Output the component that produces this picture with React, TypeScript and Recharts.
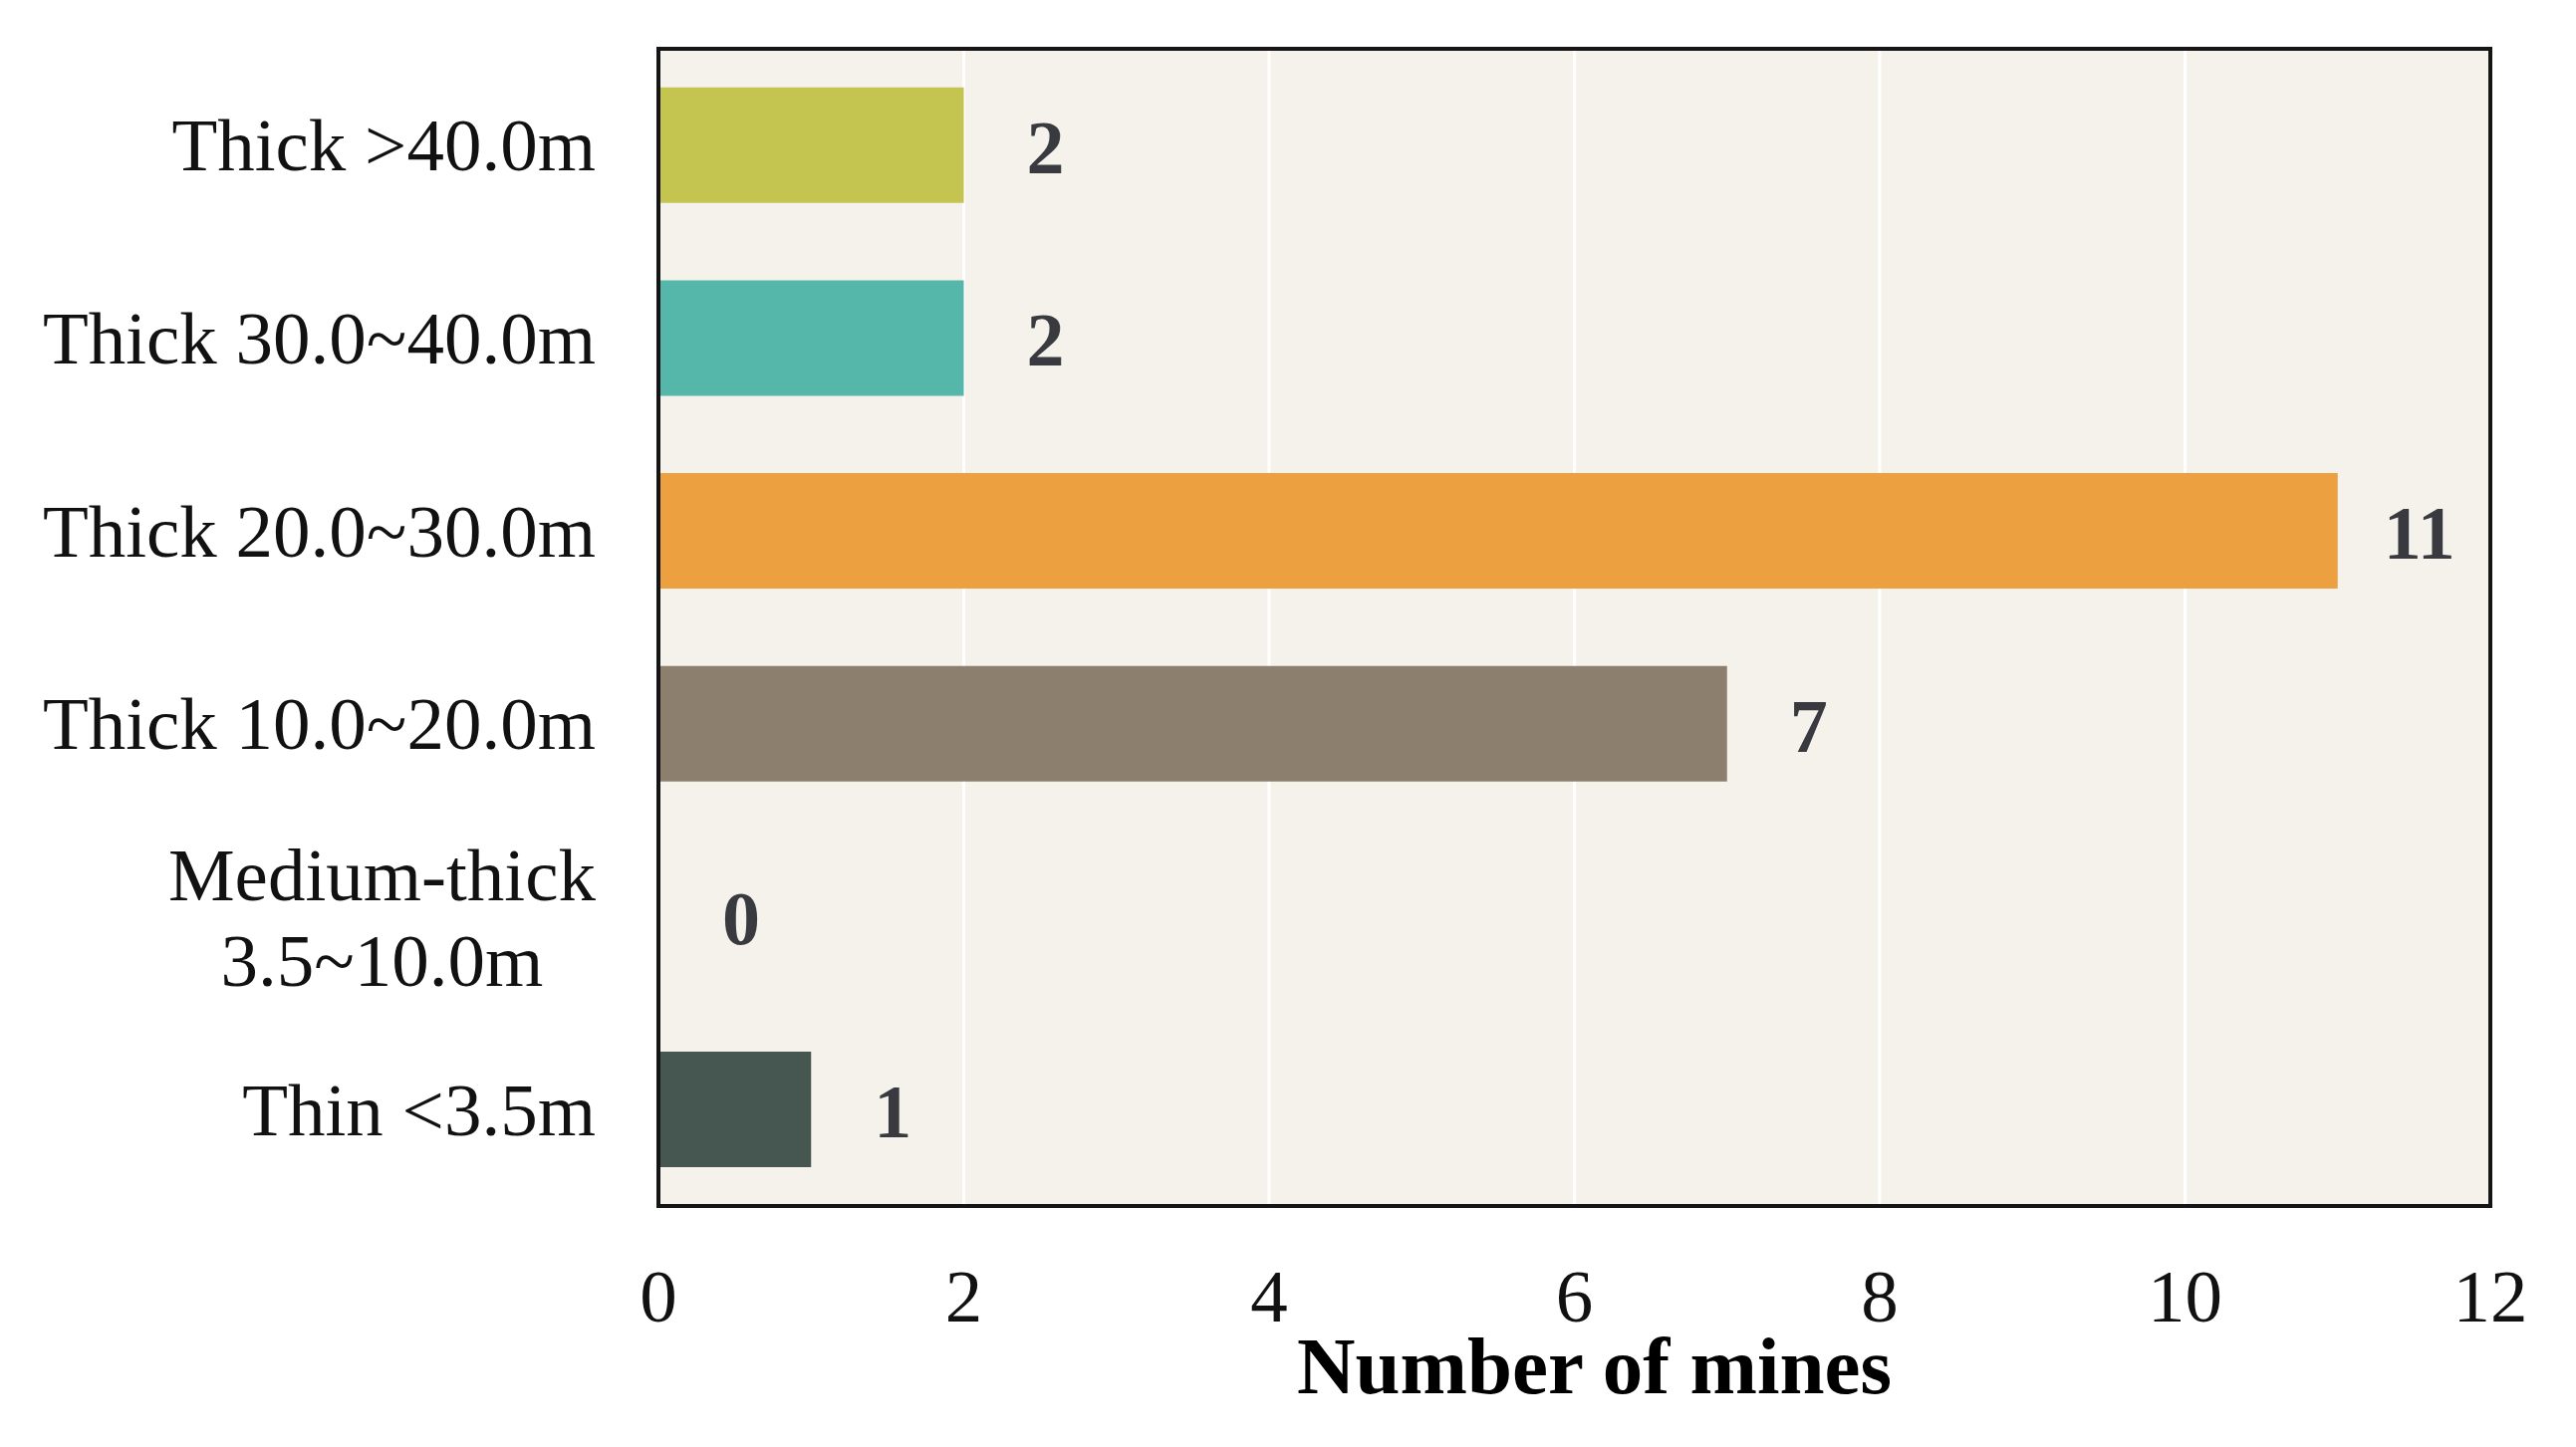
import React from "react";
import {
  BarChart,
  Bar,
  XAxis,
  YAxis,
  CartesianGrid,
  Cell,
  LabelList,
  ReferenceArea,
} from "recharts";

const categories = [
  "Thick >40.0m",
  "Thick 30.0~40.0m",
  "Thick 20.0~30.0m",
  "Thick 10.0~20.0m",
  "Medium-thick\n3.5~10.0m",
  "Thin <3.5m",
];
const mineCounts = [2, 2, 11, 7, 0, 1];
const barColors = ["#c4c450", "#55b7a9", "#eca03f", "#8c7f6e", "transparent", "#465752"];
const xTicks = [0, 2, 4, 6, 8, 10, 12];

const data = categories.map((name, i) => ({ name, value: mineCounts[i] }));

const FONT = "'Liberation Serif', 'Times New Roman', serif";
const BORDER = "#151515";

let ctx: CanvasRenderingContext2D | null = null;
const textWidth = (s: string, font: string) => {
  if (!ctx) ctx = document.createElement("canvas").getContext("2d");
  if (!ctx) return s.length * 35;
  ctx.font = font;
  return ctx.measureText(s).width;
};

const CategoryTick = (props: any) => {
  const { x, y, payload } = props;
  const lines: string[] = String(payload.value).split("\n");
  if (lines.length === 1) {
    return (
      <text x={x} y={y} dy="0.34em" textAnchor="end" fontFamily={FONT} fontSize={75} fill="#111">
        {lines[0]}
      </text>
    );
  }
  const w = Math.max(...lines.map((l) => textWidth(l, `75px ${FONT}`)));
  const cx = x - w / 2;
  const lh = 86;
  const start = y - ((lines.length - 1) * lh) / 2 + 26;
  return (
    <text x={cx} y={start} textAnchor="middle" fontFamily={FONT} fontSize={75} fill="#111">
      {lines.map((l, i) => (
        <tspan key={i} x={cx} y={start + i * lh}>
          {l}
        </tspan>
      ))}
    </text>
  );
};

const ValueLabel = (props: any) => {
  const { x, y, width, height, value } = props;
  return (
    <text
      x={Number(x) + Number(width) + 82}
      y={Number(y) + Number(height) / 2 + 28}
      textAnchor="middle"
      fontFamily={FONT}
      fontWeight="bold"
      fontSize={76}
      fill="#393a3f"
    >
      {value}
    </text>
  );
};

const AxisTitle = (props: any) => {
  const vb = props.viewBox;
  return (
    <text
      x={vb.x + vb.width / 2 + 20}
      y={vb.y + 188}
      textAnchor="middle"
      fontFamily={FONT}
      fontWeight="bold"
      fontSize={81}
      fill="#000"
    >
      Number of mines
    </text>
  );
};

export default function App() {
  return (
    <div style={{ position: "absolute", left: 0, top: 0, background: "#fff" }}>
      <BarChart
        width={2586}
        height={1453}
        data={data}
        layout="vertical"
        margin={{ top: 49, right: 86, bottom: 0, left: 0 }}
        barCategoryGap="20%"
      >
        <CartesianGrid
          horizontal={false}
          vertical={true}
          stroke="#ffffff"
          strokeWidth={3}
          fill="#f4f2eb"
          fillOpacity={1}
        />
        <XAxis
          type="number"
          domain={[0, 12]}
          ticks={xTicks}
          height={242}
          tickSize={0}
          tickLine={false}
          tickMargin={63}
          axisLine={{ stroke: BORDER, strokeWidth: 4 }}
          tick={{ fontFamily: FONT, fontSize: 75, fill: "#111" }}
          label={{ content: AxisTitle }}
        />
        <YAxis
          type="category"
          dataKey="name"
          width={661}
          tickSize={0}
          tickLine={false}
          tickMargin={63}
          interval={0}
          axisLine={{ stroke: BORDER, strokeWidth: 4 }}
          tick={<CategoryTick />}
        />
        <Bar dataKey="value" isAnimationActive={false} minPointSize={1}>
          {data.map((d, i) => (
            <Cell key={d.name} fill={barColors[i]} />
          ))}
          <LabelList dataKey="value" content={<ValueLabel />} />
        </Bar>
        <ReferenceArea
          x1={0}
          x2={12}
          fill="none"
          fillOpacity={0}
          stroke={BORDER}
          strokeWidth={4}
          ifOverflow="visible"
        />
      </BarChart>
    </div>
  );
}
